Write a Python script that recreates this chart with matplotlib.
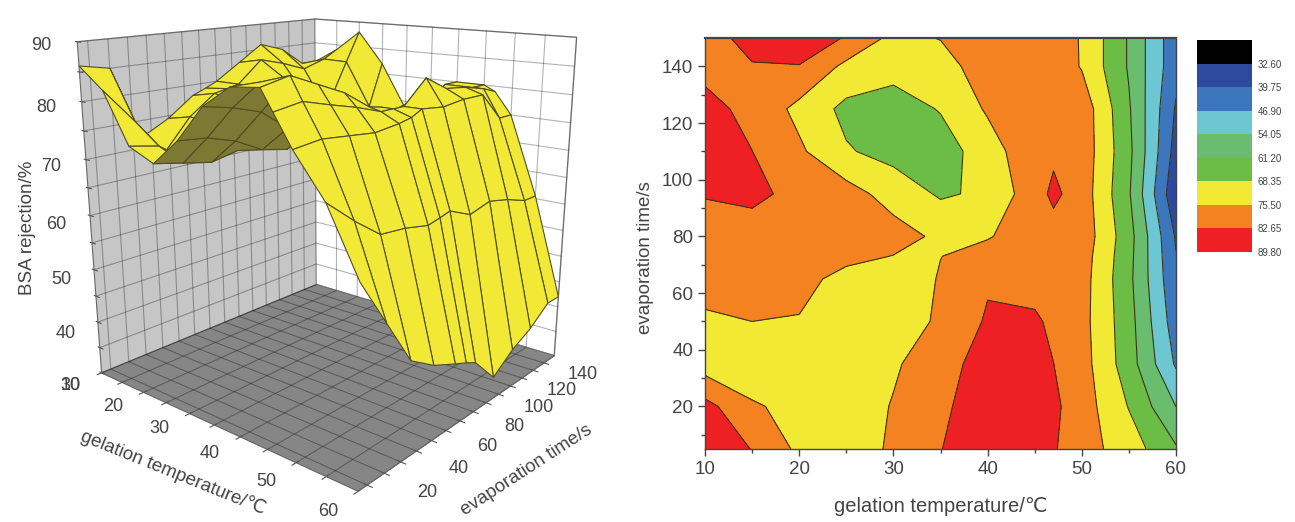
import numpy as np
import matplotlib
matplotlib.use("Agg")
import matplotlib.pyplot as plt
from mpl_toolkits.mplot3d import proj3d

plt.rcParams["font.family"] = ["Liberation Sans", "DejaVu Sans"]

temps = [10, 15, 20, 25, 30, 35, 40, 45, 47, 50, 55, 60]
times = [5, 20, 35, 50, 65, 73, 80, 95, 110, 125, 140, 150]
rej_t5 = [86, 82.5, 74, 72, 76.5, 82.5, 86, 86.5, 83.3, 78.5, 72, 62]
rej_t20 = [85, 76.5, 73, 71, 76, 81.5, 86, 87.5, 84, 79, 68, 54]
rej_t35 = [72, 70, 69.5, 70, 74.5, 80, 85.5, 85.5, 82.7, 78.5, 64.5, 46]
rej_t50 = [74.5, 75.5, 75, 71, 72, 76.5, 83.5, 83.5, 81.5, 78, 64, 43]
rej_t65 = [78, 79, 78, 73, 71, 76, 81.8, 80.5, 80, 78.5, 63, 41]
rej_t73 = [79, 79.5, 79, 77.5, 75.3, 75.4, 78, 80, 80, 79, 63.5, 40]
rej_t80 = [80, 80, 80, 79, 78.5, 74, 75, 79, 80, 80, 64, 39]
rej_t95 = [83, 84, 81, 78.5, 72.5, 67.5, 69.5, 80, 84, 79.5, 62, 34]
rej_t110 = [86, 82.7, 76.7, 69, 66, 65, 72, 81, 81.5, 80, 63, 37]
rej_t125 = [84.5, 81, 73.5, 66.5, 65, 68.8, 76.4, 80, 81, 80, 62, 39]
rej_t140 = [81, 82.4, 82.3, 73.8, 71, 72, 80, 80, 80, 75, 60.5, 42]
rej_t150 = [81, 84, 88, 82, 73.5, 75.8, 80, 80, 79, 75, 60.5, 42]

levels = [32.6, 39.75, 46.9, 54.05, 61.2, 68.35, 75.5, 82.65, 89.8]
level_labels = ["32.60", "39.75", "46.90", "54.05", "61.20", "68.35", "75.50", "82.65", "89.80"]
band_colors = ["#2e4a9e", "#3c76bc", "#6cc7d2", "#6abd6e", "#6cbd45", "#f2e935", "#f58220", "#ee2024"]

rejection = np.array([rej_t5, rej_t20, rej_t35, rej_t50, rej_t65, rej_t73, rej_t80, rej_t95,
                      rej_t110, rej_t125, rej_t140, rej_t150])
T, t = np.meshgrid(temps, times)

W, H = 1295, 522
TEXT = "#444444"
fig = plt.figure(figsize=(W / 100, H / 100), dpi=100)


def box(x0, y0, x1, y1):
    return [x0 / W, 1 - y1 / H, (x1 - x0) / W, (y1 - y0) / H]


# left: surface
ELEV, AZIM, Z_ASPECT = 16, -50, 1.0
ax3 = fig.add_axes(box(75.7, -33.5, 575.7, 466.5), projection="3d", computed_zorder=False)
ax3.set_proj_type("persp", focal_length=0.35)
ax3.view_init(elev=ELEV, azim=AZIM)
ax3.set_box_aspect((1, 1, Z_ASPECT), zoom=1.133)
ax3.patch.set_alpha(0)

# faces seen from below get the olive colour
dx = np.diff(T, axis=1)[:-1, :] / 50
dy = np.diff(t, axis=0)[:, :-1] / 145
fx = np.diff(rejection, axis=1)[:-1, :] / 60 * Z_ASPECT / dx
fy = np.diff(rejection, axis=0)[:, :-1] / 60 * Z_ASPECT / dy
e, a = np.radians(ELEV), np.radians(AZIM)
facing = -fx * np.cos(e) * np.cos(a) - fy * np.cos(e) * np.sin(a) + np.sin(e)
face_colors = np.where(facing[..., None] < 0, np.array([[[0.49, 0.47, 0.2, 1]]]),
                       np.array([[[0.95, 0.91, 0.21, 1]]]))
ax3.plot_surface(T, t, rejection, rstride=1, cstride=1, facecolors=face_colors,
                 edgecolor="#4e4e22", linewidth=0.8, shade=False)

ax3.set_xlim(10, 60, view_margin=0)
ax3.set_ylim(5, 150, view_margin=0)
ax3.set_zlim(30, 90, view_margin=0)
ax3.set_xticks(np.arange(10, 61, 5), [])
ax3.set_yticks(np.arange(10, 141, 10), [])
ax3.set_zticks(np.arange(30, 91, 5), [])
ax3.xaxis.set_pane_color("#c6c6c6")
ax3.yaxis.set_pane_color("#ffffff")
ax3.zaxis.set_pane_color("#868686")
for axis in (ax3.xaxis, ax3.yaxis, ax3.zaxis):
    axis._axinfo["grid"].update(color=(0, 0, 0, 0.3), linewidth=0.8)
    axis.line.set_color("#666666")
    axis.pane.set_edgecolor("#999999")
ax3.zaxis._axinfo["juggled"] = (1, 2, 0)
ax3.tick_params(color="#555555")

# tick labels sit along the floor direction, as in the original software
proj = ax3.get_proj()


def tick_label(x, y, z, s):
    xs, ys, _ = proj3d.proj_transform(x, y, z, proj)
    ax3.text2D(xs, ys, s, transform=ax3.transData, fontsize=13, color=TEXT, ha="center", va="center")


for v in range(10, 61, 10):
    tick_label(v, -11, 30, str(v))
for v in range(20, 141, 20):
    tick_label(66.5, v, 30, str(v))
for v in range(30, 91, 10):
    tick_label(10, -11.5, v, str(v))

fig.text(173 / W, 1 - 473 / H, "gelation temperature/℃", fontsize=13.5, color=TEXT,
         rotation=-22, rotation_mode="anchor", ha="center", va="center")
fig.text(526 / W, 1 - 470 / H, "evaporation time/s", fontsize=13.5, color=TEXT,
         rotation=33, rotation_mode="anchor", ha="center", va="center")
fig.text(27 / W, 1 - 228 / H, "BSA rejection/%", fontsize=13.5, color=TEXT,
         rotation=90, ha="center", va="center")

# right: contour map
ax2 = fig.add_axes(box(705, 38, 1176, 449))
ax2.contourf(T, t, rejection, levels=levels, colors=band_colors)
ax2.contour(T, t, rejection, levels=levels, colors="#3c3418", linewidths=0.8)
ax2.set_xlim(10, 60)
ax2.set_ylim(5, 150)
ax2.set_xticks(range(10, 61, 10))
ax2.set_xticks(range(15, 60, 10), minor=True)
ax2.set_yticks(range(20, 141, 20))
ax2.set_yticks(range(10, 150, 20), minor=True)
ax2.tick_params(labelsize=13.5, labelcolor=TEXT, color="#444444", length=5, width=1)
ax2.tick_params(which="minor", color="#444444", length=3, width=1)
ax2.set_xlabel("gelation temperature/℃", fontsize=14.5, color=TEXT, labelpad=14)
ax2.set_ylabel("evaporation time/s", fontsize=13.5, color=TEXT)
ax2.yaxis.set_label_coords(-0.108, 0.467)
for s in ax2.spines.values():
    s.set_color("#444444")
    s.set_linewidth(1)
ax2.spines["top"].set_linewidth(1.6)

# right: colour key
axk = fig.add_axes(box(1197, 40, 1252, 252))
key_colors = ["black"] + band_colors
axk.bar(0, [1] * 9, bottom=np.arange(9)[::-1], width=1, color=key_colors)
axk.set_xlim(-0.5, 0.5)
axk.set_ylim(0, 9)
axk.set_xticks([])
axk.set_yticks(np.arange(8, -1, -1), level_labels)
axk.yaxis.tick_right()
axk.tick_params(axis="y", length=0, labelsize=7, labelcolor=TEXT, pad=4)
for s in axk.spines.values():
    s.set_visible(False)

fig.savefig("out.png", dpi=100)
